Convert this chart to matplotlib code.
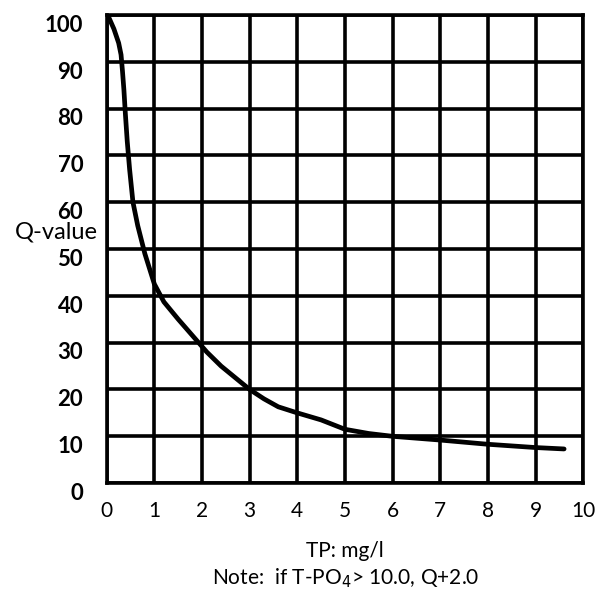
import matplotlib.pyplot as plt
from matplotlib.transforms import ScaledTranslation

# TP (mg/l) vs Q-value
tp = [0, 0.05, 0.15, 0.25, 0.3, 0.33, 0.36, 0.39, 0.43, 0.48, 0.55, 0.65,
      0.8, 1.0, 1.2, 1.5, 1.8, 2.1, 2.4, 2.7, 3.0, 3.3, 3.6, 4.0, 4.5,
      5.0, 5.5, 6.0, 7.0, 8.0, 9.0, 9.6]
q = [100, 99.3, 97, 94, 91.5, 88, 84, 79, 73, 67, 60, 55,
     49, 42.5, 38.7, 35, 31.5, 28, 25, 22.5, 20, 18, 16.3, 15, 13.5,
     11.5, 10.6, 10, 9.2, 8.3, 7.6, 7.3]

x_ticks = list(range(0, 11))
y_ticks = list(range(0, 101, 10))

plt.rcParams['font.family'] = ['Lato', 'DejaVu Sans']

fig = plt.figure(figsize=(6.1, 5.95), dpi=100)
ax = fig.add_axes([0.175, 0.188, 0.781, 0.787])

ax.plot(tp, q, color='black', lw=3.4, solid_capstyle='round',
        solid_joinstyle='round')

ax.set_xlim(0, 10)
ax.set_ylim(0, 100)
ax.set_xticks(x_ticks)
ax.set_yticks(y_ticks)
ax.set_xticklabels([str(t) for t in x_ticks], fontsize=15)
ax.set_yticklabels([str(t) for t in y_ticks], fontsize=16, fontweight='bold')
ax.tick_params(length=0, pad=13, axis='x')
ax.tick_params(length=0, pad=17, axis='y')
# y labels sit a little below their grid lines in the original
shift = ScaledTranslation(0, -6 / 72, fig.dpi_scale_trans)
for lab in ax.get_yticklabels():
    lab.set_transform(lab.get_transform() + shift)
ax.grid(True, color='black', lw=2.6)
for s in ax.spines.values():
    s.set_linewidth(2.6)

fig.text(0.092, 0.61, 'Q-value', fontsize=17, ha='center', va='center')
fig.text(0.566, 0.074, 'TP: mg/l', fontsize=15, ha='center', va='center')
fig.text(0.566, 0.028, 'Note:  if T-PO$_4$> 10.0, Q+2.0', fontsize=15,
         ha='center', va='center')

fig.savefig('out.png', dpi=100)
